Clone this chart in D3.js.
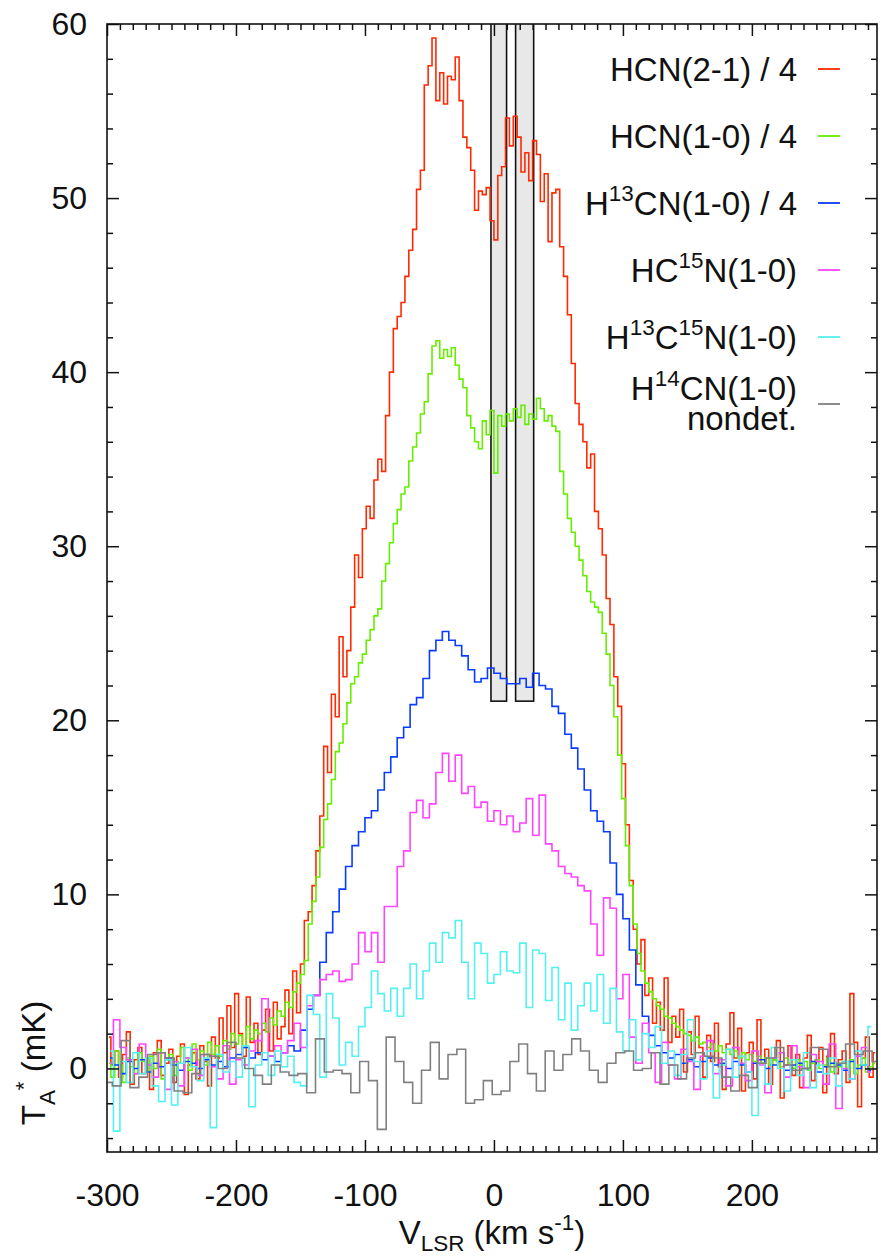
<!DOCTYPE html>
<html>
<head>
<meta charset="utf-8">
<script src="https://cdn.jsdelivr.net/npm/d3@7"></script>
<style>
  body { margin: 0; background: #fff; }
  text { font-family: "Liberation Sans", Arial, Helvetica, sans-serif; fill: #111; }
</style>
</head>
<body>
<script>
// channel grids in km/s (left edge of first channel, channel width)
const fineStart = -300, fineWidth = 3;
const midStart = -300, midWidth = 5;
const coarseStart = -302.75, coarseWidth = 6.85;

// HCN(2-1)/4, fine channels
const hcn21 = [
  1.8, 0.2, 1.0, -0.5, 0.8, 2.1, -0.9, 0.5, 1.2, -0.3,
  0.6, -1.2, 0.9, 1.6, -0.4, 0.3, 1.1, -0.8, 0.7, 1.4,
  -1.5, 0.2, 0.9, -0.6, 1.3, 0.4, -1.0, 1.8, 0.6, 2.9,
  0.9, 3.6, 1.2, 4.3, 2.0, 0.7, 4.1, 1.5, 2.6, 0.8,
  2.2, 3.4, 1.0, 3.8, 1.7, 2.4, 4.5, 2.0, 5.6, 3.2,
  6.0, 8.5, 9.0, 10.5, 12.5, 14.5, 18.5, 17.0, 21.5, 20.2,
  24.8, 22.5, 24.0, 26.5, 29.5, 28.2, 31.0, 32.3, 31.6, 33.8,
  35.0, 34.3, 37.5, 40.0, 42.5, 43.2, 44.0, 45.5, 47.0, 48.2,
  50.5, 51.6, 56.5, 57.6, 59.2, 55.6, 57.2, 55.4, 57.0, 56.8,
  58.1, 55.6, 53.5, 52.9, 51.6, 49.3, 50.4, 50.2, 50.6, 48.7,
  47.6, 51.3, 51.8, 54.6, 53.0, 54.7, 53.5, 51.5, 52.6, 51.0,
  53.3, 52.5, 49.8, 51.4, 47.5, 50.3, 50.5, 47.2, 45.5, 43.3,
  40.5, 38.2, 37.0, 36.0, 34.5, 35.3, 32.0, 31.0, 29.5, 27.0,
  25.5, 22.5, 20.8, 17.5, 14.0, 10.8, 8.0, 6.0, 7.4, 4.2,
  5.2, 2.6, 3.8, 2.2, 5.2, 1.5, 3.0, 1.8, 3.4, -0.2,
  2.1, 0.8, 3.0, 1.2, -0.5, 1.9, 0.4, 2.6, 0.1, -1.2,
  1.4, 3.2, 0.6, 2.3, -1.3, 0.9, 1.5, -0.6, 2.8, 0.3,
  1.1, -0.9, 0.5, 1.6, -1.7, 0.2, 1.3, -0.4, 0.8, -1.1,
  0.6, 1.9, -0.7, 0.4, 1.2, -1.4, 0.7, 2.0, -0.3, 0.5,
  1.0, -0.8, 4.3, 1.5, -2.2, 0.6, 1.8, -0.5, 0.9
];

// HCN(1-0)/4, fine channels
const hcn10 = [
  0.3, -0.5, 1.0, 0.2, -0.8, 0.6, 0.1, -0.3, 0.9, 0.4,
  -0.2, 0.7, 0.0, 1.1, -0.6, 0.5, 0.8, -0.4, 0.3, 1.2,
  0.6, -0.1, 1.4, 0.5, 1.0, 0.2, 1.5, 0.8, 1.3, 0.7,
  1.6, 1.1, 2.0, 1.4, 1.9, 1.2, 2.4, 1.7, 2.2, 2.0,
  2.6, 2.1, 2.9, 2.5, 3.3, 3.0, 3.8, 3.5, 4.4, 4.9,
  5.4, 6.2, 8.3, 9.6, 11.0, 12.7, 14.3, 15.2, 16.6, 18.2,
  18.7, 19.8, 21.0, 22.1, 22.5, 23.3, 23.8, 24.6, 25.2, 26.0,
  26.4, 28.0, 29.0, 30.2, 31.3, 32.1, 33.0, 33.4, 34.9, 35.7,
  36.5, 37.6, 38.3, 39.9, 41.5, 41.8, 40.8, 41.3, 40.9, 41.4,
  40.4, 39.6, 39.1, 37.5, 36.8, 36.0, 35.6, 37.2, 36.4, 37.8,
  34.2, 37.5, 36.9, 37.6, 37.2, 37.9, 37.4, 38.1, 37.0, 37.6,
  37.3, 38.5, 37.9, 37.2, 37.5, 36.9, 36.6, 34.3, 33.0, 31.6,
  30.8, 30.0, 29.2, 28.3, 27.4, 26.8, 26.5, 26.2, 25.0, 23.8,
  22.0, 20.2, 18.0, 15.5, 12.8, 10.5, 8.3, 6.6, 5.6, 4.9,
  4.4, 4.0, 3.6, 3.4, 3.0, 2.9, 2.6, 2.4, 2.2, 2.0,
  1.9, 1.6, 1.8, 1.4, 1.5, 1.2, 1.4, 1.0, 1.3, 0.9,
  1.1, 0.8, 1.0, 0.6, 0.9, 0.5, 0.8, 0.4, 0.7, 0.3,
  0.6, 0.2, 0.5, 0.4, 0.1, 0.6, 0.3, 0.0, 0.5, 0.2,
  0.4, -0.1, 0.3, 0.5, 0.0, 0.2, 0.6, -0.2, 0.3, 0.1,
  0.4, 0.0, 0.5, -0.3, 0.2, 0.6, -0.2, 0.1, 0.3
];

// H13CN(1-0)/4, mid channels
const h13cn = [
  0.6, 0.2, -0.3, 0.4, 0.0, 0.5, -0.2, 0.3, 0.1, 0.6,
  0.2, -0.1, 0.4, 0.3, 0.0, 0.5, 0.2, 0.4, 0.1, 0.6,
  0.8, 1.2, 0.6, 0.9, 0.5, 0.7, 0.4, 0.9, 1.3, 1.0,
  2.2, 3.4, 4.2, 6.1, 7.8, 9.0, 10.3, 11.6, 12.8, 13.6,
  14.4, 14.8, 16.0, 17.0, 17.9, 19.0, 19.6, 20.9, 21.3, 22.4,
  24.0, 24.6, 25.1, 24.6, 24.3, 23.7, 22.9, 22.2, 22.4, 23.0,
  22.7, 22.4, 22.1, 22.1, 22.4, 21.9, 22.7, 22.0, 21.8, 20.8,
  20.4, 19.2, 18.4, 17.2, 16.0, 14.8, 14.2, 13.6, 11.8, 10.0,
  8.6, 6.8, 4.8, 3.0, 1.9, 1.3, 0.9, 0.6, 0.8, 0.3,
  0.5, 0.1, 0.4, 0.6, 0.2, 0.3, 0.0, 0.4, 0.2, -0.2,
  0.3, 0.5, 0.0, 0.2, 0.4, -0.1, 0.2, 0.3, 0.0, 0.4,
  -0.2, 0.1, 0.3, 0.2, -0.1, 0.4, 0.0, 0.2, -0.1
];

// HC15N(1-0), mid channels
const hc15n = [
  0.3, 2.8, 1.2, 0.5, -0.3, 1.4, 0.2, -0.5, 0.9, -1.2,
  0.4, -1.0, 0.6, 1.1, -0.4, 0.8, 0.1, -0.6, 1.3, -0.9,
  0.5, 0.2, 1.0, 1.6, 4.0, 0.7, 1.3, 0.9, 1.6, 2.6,
  1.2, 3.6, 4.2, 5.1, 5.4, 5.6, 5.0, 5.1, 6.0, 7.8,
  6.7, 7.8, 6.1, 9.3, 9.3, 11.6, 12.5, 14.7, 15.4, 14.4,
  15.2, 17.0, 18.1, 16.5, 18.0, 15.8, 16.2, 15.0, 15.3, 14.2,
  14.8, 14.0, 14.5, 13.6, 14.1, 15.5, 13.4, 15.7, 12.9, 12.5,
  11.6, 11.2, 11.0, 10.5, 10.2, 8.3, 6.5, 9.8, 9.2, 4.0,
  5.4, 1.8, 0.3, 2.6, 0.9, -0.8, 1.5, 0.2, -0.6, 1.1,
  0.4, -1.2, 0.7, 1.6, -0.3, 0.5, -1.0, 1.2, 0.3, -0.7,
  1.0, 0.2, -1.4, 0.6, 0.9, -0.5, 1.3, 0.1, -1.1, 0.8,
  0.4, -0.9, 1.4, -2.3, 0.0, -0.6, 0.7, 1.2, -0.2
];

// H13C15N(1-0), mid channels
const h13c15n = [
  1.0, -3.6, 0.4, -0.8, 0.9, -0.3, 0.6, -1.0, -1.9, 0.5,
  -2.1, 0.3, 1.2, 0.1, -0.7, 0.6, -3.4, 0.8, -0.2, 0.4,
  -0.5, 1.3, -2.2, 0.2, 0.9, -0.4, 1.0, 0.1, 0.7, -0.8,
  -1.0, 4.2, 3.1, -0.5, 4.3, 2.9, 0.2, 1.5, 0.7, 2.4,
  3.5, 5.6, 4.3, 3.3, 4.6, 3.0, 4.6, 6.0, 4.0, 5.6,
  7.2, 6.1, 7.8, 7.5, 8.5, 6.1, 4.0, 7.2, 6.6, 4.9,
  5.4, 6.7, 5.6, 5.5, 7.2, 3.5, 6.8, 6.6, 3.9, 5.8,
  2.8, 4.9, 2.2, 3.6, 4.9, 3.3, 5.4, 2.6, 4.6, 2.1,
  1.0, 2.8, 0.5, 2.0, 1.2, 2.4, 0.3, 1.0, -0.4, 0.8,
  2.8, 0.4, -0.6, 1.0, -1.7, 0.2, 1.1, -0.5, 0.7, -0.2,
  -2.7, 0.3, -0.9, 1.2, 0.0, -1.3, 0.5, -0.4, 0.9, -1.1,
  0.2, -0.3, 0.6, -1.0, 0.4, -0.6, 1.0, 0.2, 2.4
];

// H14CN(1-0), coarse channels (non-detection)
const h14cn = [
  -0.8, -1.0, 1.6, -1.1, -0.5, 0.8, 0.9, 0.6, -1.3, -1.4,
  -0.3, 0.8, 0.7, 0.0, 1.5, 0.6, 0.0, -0.4, -0.9, 0.2,
  -0.2, -0.4, -0.3, -1.4, 1.7, -0.2, -0.1, -0.3, -1.4, 0.4,
  -0.7, -3.5, 1.8, 0.4, -0.8, -2.0, -0.1, 1.5, -0.6, 0.8,
  1.1, -2.0, -1.8, -0.7, -1.5, -1.3, 0.4, 1.4, -0.3, -1.3,
  1.0, -0.1, 0.8, 1.7, 1.0, -0.1, -0.8, 0.3, 0.9, 1.0,
  -0.1, 0.0, 0.9, -0.9, 0.2, -0.6, 0.6, 0.9, 0.7, 0.6,
  -0.5, -1.3, -0.4, -1.1, 0.3, 0.6, 1.2, 0.2, -0.1, 0.0,
  1.2, 1.1, 0.1, 0.3, 1.4, 0.8, 1.0, 0.4
];

const labels = ["HCN(2-1) / 4", "HCN(1-0) / 4", "H^{13}CN(1-0) / 4",
                "HC^{15}N(1-0)", "H^{13}C^{15}N(1-0)", "H^{14}CN(1-0)"];
const colors = ["#ff2a00", "#66ee00", "#0a3cff", "#ff44ff", "#55f0f0", "#808080"];

// velocity ranges blanked by the grey boxes
const maskRanges = [[-2.3, 9.8], [16.8, 30.8]];
const maskFloor = 21.1;

const xTicks = [-300, -200, -100, 0, 100, 200];
const yTicks = [0, 10, 20, 30, 40, 50, 60];

const series = [
  { values: hcn21, start: fineStart, width: fineWidth },
  { values: hcn10, start: fineStart, width: fineWidth },
  { values: h13cn, start: midStart, width: midWidth },
  { values: hc15n, start: midStart, width: midWidth },
  { values: h13c15n, start: midStart, width: midWidth },
  { values: h14cn, start: coarseStart, width: coarseWidth }
];

const W = 881, H = 1259;
const pLeft = 107, pRight = 877, pTop = 24, pBottom = 1152;
const tickFont = 32, labelFont = 33;

const svg = d3.select("body").append("svg")
  .attr("width", W)
  .attr("height", H);

const x = d3.scaleLinear().domain([-300, 297]).range([pLeft, pRight]);
const y = d3.scaleLinear().domain([-4.8, 60]).range([pBottom, pTop]);

svg.append("clipPath").attr("id", "plotclip")
  .append("rect")
  .attr("x", pLeft).attr("y", pTop)
  .attr("width", pRight - pLeft).attr("height", pBottom - pTop);

const plot = svg.append("g").attr("clip-path", "url(#plotclip)");

// grey boxes
plot.selectAll(".mask")
  .data(maskRanges)
  .enter().append("rect")
  .attr("class", "mask")
  .attr("x", d => x(d[0]))
  .attr("width", d => x(d[1]) - x(d[0]))
  .attr("y", y(62))
  .attr("height", y(maskFloor) - y(62))
  .attr("fill", "#e8e8e8")
  .attr("stroke", "#111")
  .attr("stroke-width", 1.6);

// spectra as histograms
const line = d3.line()
  .x(d => x(d.v))
  .y(d => y(d.t))
  .curve(d3.curveStep);

series.forEach((s, k) => {
  const pts = s.values.map((t, i) => ({ v: s.start + (i + 0.5) * s.width, t: t }));
  plot.append("path")
    .datum(pts)
    .attr("d", line)
    .attr("fill", "none")
    .attr("stroke", colors[k])
    .attr("stroke-width", 1.6)
    .attr("stroke-linejoin", "miter");
});

// axes with inward ticks
function styleAxis(g) {
  g.select(".domain").remove();
  g.selectAll("line").attr("stroke", "#111").attr("stroke-width", 1.5);
  g.attr("font-size", tickFont).attr("font-family", "'Liberation Sans', Arial, sans-serif");
  g.selectAll("text").attr("fill", "#111");
}

const plain = d => String(d);   // hyphen minus as in the original
const xMinor = d3.range(-290, 297, 10).filter(v => v % 100 !== 0);
const yMinor = d3.range(-4, 60, 2).filter(v => v % 10 !== 0);

svg.append("g").attr("transform", `translate(0,${pBottom})`)
  .call(d3.axisBottom(x).tickValues(xTicks).tickSize(-12).tickPadding(31).tickFormat(plain))
  .call(styleAxis);
svg.append("g").attr("transform", `translate(0,${pBottom})`)
  .call(d3.axisBottom(x).tickValues(xMinor).tickSize(-6).tickFormat(""))
  .call(styleAxis);
svg.append("g").attr("transform", `translate(0,${pTop})`)
  .call(d3.axisTop(x).tickValues(xTicks).tickSize(-12).tickFormat(""))
  .call(styleAxis);
svg.append("g").attr("transform", `translate(0,${pTop})`)
  .call(d3.axisTop(x).tickValues(xMinor).tickSize(-6).tickFormat(""))
  .call(styleAxis);

svg.append("g").attr("transform", `translate(${pLeft},0)`)
  .call(d3.axisLeft(y).tickValues(yTicks).tickSize(-12).tickPadding(20).tickFormat(plain))
  .call(styleAxis);
svg.append("g").attr("transform", `translate(${pLeft},0)`)
  .call(d3.axisLeft(y).tickValues(yMinor).tickSize(-6).tickFormat(""))
  .call(styleAxis);
svg.append("g").attr("transform", `translate(${pRight},0)`)
  .call(d3.axisRight(y).tickValues(yTicks).tickSize(-12).tickFormat(""))
  .call(styleAxis);
svg.append("g").attr("transform", `translate(${pRight},0)`)
  .call(d3.axisRight(y).tickValues(yMinor).tickSize(-6).tickFormat(""))
  .call(styleAxis);

// frame
svg.append("rect")
  .attr("x", pLeft).attr("y", pTop)
  .attr("width", pRight - pLeft).attr("height", pBottom - pTop)
  .attr("fill", "none")
  .attr("stroke", "#111")
  .attr("stroke-width", 1.6);

// text with ^{sup} and _{sub}
function rich(sel, str, base, subOff) {
  const parts = str.split(/(\^\{[^}]*\}|_\{[^}]*\})/).filter(p => p.length);
  let cur = 0;
  parts.forEach(p => {
    let off = 0, size = base, t = p;
    if (p.startsWith("^{")) { off = -0.42 * base; size = 0.68 * base; t = p.slice(2, -1); }
    else if (p.startsWith("_{")) { off = (subOff || 0.3) * base; size = 0.68 * base; t = p.slice(2, -1); }
    sel.append("tspan").attr("dy", off - cur).attr("font-size", size).text(t);
    cur = off;
  });
}

// legend
const legTop = 69, legStep = 67;
labels.forEach((lab, k) => {
  const ly = legTop + k * legStep;
  const last = k === labels.length - 1;
  const t = svg.append("text")
    .attr("x", 797)
    .attr("y", last ? ly - 4 : ly + 12)
    .attr("text-anchor", "end")
    .attr("font-size", labelFont);
  rich(t, lab, labelFont);
  if (last) {
    svg.append("text")
      .attr("x", 797).attr("y", ly + 26)
      .attr("text-anchor", "end")
      .attr("font-size", labelFont)
      .text("nondet.");
  }
  svg.append("line")
    .attr("x1", 818).attr("x2", 840)
    .attr("y1", ly).attr("y2", ly)
    .attr("stroke", colors[k])
    .attr("stroke-width", 1.8);
});

// axis titles
const xt = svg.append("text")
  .attr("x", (pLeft + pRight) / 2)
  .attr("y", 1244)
  .attr("text-anchor", "middle")
  .attr("font-size", labelFont);
rich(xt, "V_{LSR} (km s^{-1})", labelFont, 0.22);

const yt = svg.append("text")
  .attr("transform", "translate(45,1063) rotate(-90)")
  .attr("text-anchor", "middle")
  .attr("font-size", labelFont);
rich(yt, "T_{A}^{*} (mK)", labelFont);
</script>
</body>
</html>
